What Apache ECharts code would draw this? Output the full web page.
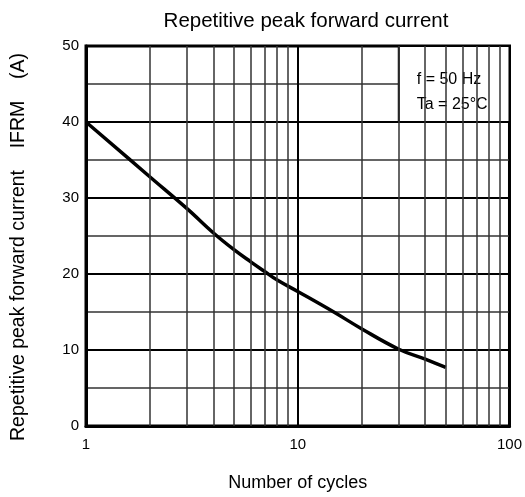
<!DOCTYPE html>
<html>
<head>
<meta charset="utf-8">
<script src="https://cdn.jsdelivr.net/npm/echarts@6/dist/echarts.min.js"></script>
<style>
  html, body { margin: 0; padding: 0; background: #fff; }
  #main { width: 525px; height: 497px; }
</style>
</head>
<body>
<div id="main"></div>
<script>
// Valeurs (nombre de cycles -> IFRM en A)
var cycles = [1, 2, 3, 4, 5, 6, 7, 8, 10, 14.8, 20, 30, 40, 50];
var current = [40, 32.8, 28.6, 25.4, 23.2, 21.6, 20.3, 19.2, 17.7, 15, 12.8, 10.1, 8.8, 7.7];

// Lignes secondaires de la grille logarithmique
var minorCycles = [2, 3, 4, 5, 6, 7, 8, 9, 20, 30, 40, 50, 60, 70, 80, 90];

// Encadré des conditions de mesure
var noteFrom = [30, 40];
var noteTo = [100, 50];
var noteText = 'f = 50 Hz\nTa = 25°C';

var font = 'Liberation Sans, Arial, sans-serif';

var points = [];
for (var i = 0; i < cycles.length; i++) {
	points.push([cycles[i], current[i]]);
}

var minorLines = [];
for (var j = 0; j < minorCycles.length; j++) {
	minorLines.push({ xAxis: minorCycles[j] });
}

var myChart = echarts.init(document.getElementById('main'));

var option = {
	animation: false,
	backgroundColor: '#fff',
	title: {
		text: 'Repetitive peak forward current',
		left: 301,
		textAlign: 'center',
		top: 6,
		textStyle: { fontFamily: font, fontSize: 20.5, fontWeight: 'normal', color: '#000' }
	},
	grid: {
		left: 86, right: 13, top: 46, bottom: 67,
		show: true,
		borderColor: '#000',
		borderWidth: 3
	},
	graphic: [{
		type: 'text',
		x: 19,
		y: 247,
		rotation: Math.PI / 2,
		style: {
			text: 'Repetitive peak forward current    IFRM    (A)',
			fontFamily: font,
			fontSize: 19.5,
			fill: '#000',
			align: 'center',
			verticalAlign: 'middle'
		}
	}],
	xAxis: {
		type: 'log',
		logBase: 10,
		min: 1,
		max: 100,
		name: 'Number of cycles',
		nameLocation: 'middle',
		nameGap: 48,
		nameTextStyle: { fontFamily: font, fontSize: 18, color: '#000' },
		axisLine: { show: true, lineStyle: { color: '#000', width: 3 } },
		axisTick: { show: false },
		axisLabel: { fontFamily: font, fontSize: 15, color: '#000', margin: 11 },
		splitLine: { show: true, lineStyle: { color: '#000', width: 2 } }
	},
	yAxis: {
		type: 'value',
		min: 0,
		max: 50,
		interval: 10,
		axisLine: { show: true, lineStyle: { color: '#000', width: 3 } },
		axisTick: { show: false },
		axisLabel: { fontFamily: font, fontSize: 15, color: '#000', margin: 7 },
		splitLine: { show: true, lineStyle: { color: '#000', width: 2 } },
		minorTick: { show: false, splitNumber: 2 },
		minorSplitLine: { show: true, lineStyle: { color: '#333', width: 1.5 } }
	},
	series: [{
		type: 'line',
		data: [],
		silent: true,
		markLine: {
			silent: true,
			symbol: 'none',
			label: { show: false },
			lineStyle: { color: '#333', width: 1.5, type: 'solid' },
			data: minorLines
		}
	}, {
		type: 'line',
		data: points,
		smooth: 0.4,
		showSymbol: false,
		lineStyle: { color: '#000', width: 3.5 },
		z: 3
	}, {
		type: 'line',
		data: [],
		silent: true,
		z: 4,
		markArea: {
			silent: true,
			itemStyle: { color: '#fff', borderColor: '#000', borderWidth: 2 },
			label: {
				show: true,
				position: 'insideTopLeft',
				distance: 0,
				offset: [19, 22],
				formatter: noteText,
				fontFamily: font,
				fontSize: 16,
				lineHeight: 25,
				color: '#000'
			},
			data: [[{ coord: noteFrom }, { coord: noteTo }]]
		}
	}]
};

myChart.setOption(option);
</script>
</body>
</html>
